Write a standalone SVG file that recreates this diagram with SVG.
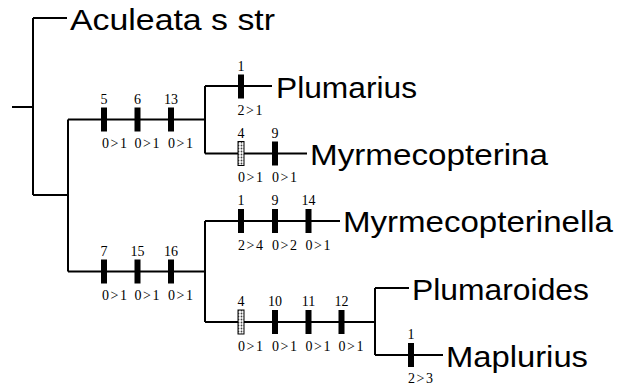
<svg xmlns="http://www.w3.org/2000/svg" width="626" height="388" viewBox="0 0 626 388">
  <defs>
    <pattern id="stipple" width="3" height="3" patternUnits="userSpaceOnUse">
      <rect width="3" height="3" fill="#fff"/>
      <circle cx="1.5" cy="1.5" r="0.9" fill="#444"/>
    </pattern>
  </defs>
  <style>
    .br { fill: none; stroke: #000; stroke-width: 2; }
    .tick { fill: #000; }
    .hom { fill: url(#stipple); stroke: #000; stroke-width: 1; }
    .taxon { font-family: "Liberation Sans", Arial, sans-serif; font-size: 29px; fill: #000; }
    .num { font-family: "Liberation Serif", "Times New Roman", serif; font-size: 14px; fill: #000; text-anchor: middle; }
    .st { font-family: "Liberation Serif", "Times New Roman", serif; font-size: 14px; letter-spacing: 1.6px; fill: #000; }
  </style>
  <rect width="626" height="388" fill="#fff"/>

  <!-- branches of the tree -->
  <g id="connectors">
    <path class="br" d="M12,107 H33 M33,18 V195 M33,18 H67 M33,195 H68"/>
    <path class="br" d="M68,119.5 V271.5 M68,119.5 H205 M68,271.5 H205"/>
    <path class="br" d="M205,86 V153.5 M205,86 H272 M205,153.5 H307"/>
    <path class="br" d="M205,221 V322 M205,221 H340 M205,322 H375"/>
    <path class="br" d="M375,288 V355 M375,288 H409 M375,355 H443"/>
  </g>

  <!-- character-state changes on the internal branch to Plumarius + Myrmecopterina -->
  <g id="clade-a">
    <rect class="tick" x="101" y="107.5" width="6" height="24"/>
    <rect class="tick" x="134.5" y="107.5" width="6" height="24"/>
    <rect class="tick" x="168" y="107.5" width="6" height="24"/>
    <text class="num" x="104" y="103.5">5</text>
    <text class="num" x="137.5" y="103.5">6</text>
    <text class="num" x="171" y="103.5">13</text>
    <text class="st" x="102" y="148">0&gt;1</text>
    <text class="st" x="134.5" y="148">0&gt;1</text>
    <text class="st" x="168" y="148">0&gt;1</text>
  </g>

  <!-- character-state changes on the internal branch to the lower clade -->
  <g id="clade-b">
    <rect class="tick" x="101" y="259.5" width="6" height="24"/>
    <rect class="tick" x="134.5" y="259.5" width="6" height="24"/>
    <rect class="tick" x="168" y="259.5" width="6" height="24"/>
    <text class="num" x="104" y="255.5">7</text>
    <text class="num" x="137.5" y="255.5">15</text>
    <text class="num" x="171" y="255.5">16</text>
    <text class="st" x="102" y="300">0&gt;1</text>
    <text class="st" x="134.5" y="300">0&gt;1</text>
    <text class="st" x="168" y="300">0&gt;1</text>
  </g>

  <!-- branch to Plumaroides + Maplurius -->
  <g id="clade-c">
    <rect class="hom" x="238" y="310" width="6" height="24"/>
    <rect class="tick" x="272" y="310" width="6" height="24"/>
    <rect class="tick" x="305.5" y="310" width="6" height="24"/>
    <rect class="tick" x="338.5" y="310" width="6" height="24"/>
    <text class="num" x="241" y="306">4</text>
    <text class="num" x="275" y="306">10</text>
    <text class="num" x="308.5" y="306">11</text>
    <text class="num" x="341.5" y="306">12</text>
    <text class="st" x="238" y="350.5">0&gt;1</text>
    <text class="st" x="272" y="350.5">0&gt;1</text>
    <text class="st" x="305.5" y="350.5">0&gt;1</text>
    <text class="st" x="338.5" y="350.5">0&gt;1</text>
  </g>

  <g id="aculeata">
    <text class="taxon" x="70" y="30" textLength="205" lengthAdjust="spacingAndGlyphs">Aculeata s str</text>
  </g>

  <g id="plumarius">
    <rect class="tick" x="238" y="74.5" width="6" height="24"/>
    <text class="num" x="241" y="70.5">1</text>
    <text class="st" x="237.5" y="115">2&gt;1</text>
    <text class="taxon" x="276" y="98" textLength="141" lengthAdjust="spacingAndGlyphs">Plumarius</text>
  </g>

  <g id="myrmecopterina">
    <rect class="hom" x="238" y="141.5" width="6" height="24"/>
    <rect class="tick" x="272" y="141.5" width="6" height="24"/>
    <text class="num" x="241" y="138">4</text>
    <text class="num" x="275" y="138">9</text>
    <text class="st" x="238" y="181.5">0&gt;1</text>
    <text class="st" x="272" y="181.5">0&gt;1</text>
    <text class="taxon" x="310" y="165" textLength="238" lengthAdjust="spacingAndGlyphs">Myrmecopterina</text>
  </g>

  <g id="myrmecopterinella">
    <rect class="tick" x="238" y="209" width="6" height="24"/>
    <rect class="tick" x="272" y="209" width="6" height="24"/>
    <rect class="tick" x="305.5" y="209" width="6" height="24"/>
    <text class="num" x="241" y="205">1</text>
    <text class="num" x="275" y="205">9</text>
    <text class="num" x="308.5" y="205">14</text>
    <text class="st" x="238" y="249.5">2&gt;4</text>
    <text class="st" x="272" y="249.5">0&gt;2</text>
    <text class="st" x="305.5" y="249.5">0&gt;1</text>
    <text class="taxon" x="343" y="231.5" textLength="270" lengthAdjust="spacingAndGlyphs">Myrmecopterinella</text>
  </g>

  <g id="plumaroides">
    <text class="taxon" x="412" y="300" textLength="177" lengthAdjust="spacingAndGlyphs">Plumaroides</text>
  </g>

  <g id="maplurius">
    <rect class="tick" x="408" y="343" width="6" height="24"/>
    <text class="num" x="411" y="339">1</text>
    <text class="st" x="408" y="383">2&gt;3</text>
    <text class="taxon" x="446" y="367" textLength="142" lengthAdjust="spacingAndGlyphs">Maplurius</text>
  </g>
</svg>
